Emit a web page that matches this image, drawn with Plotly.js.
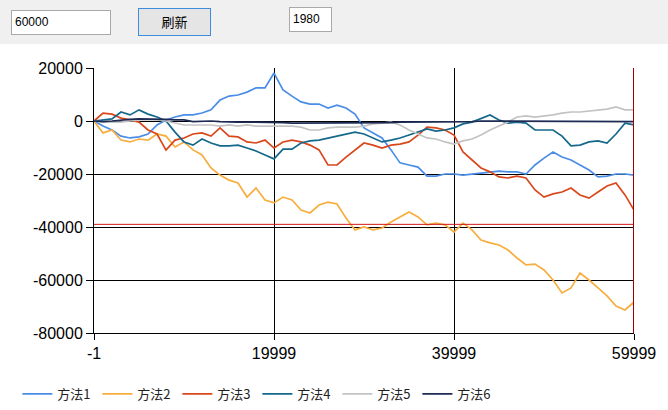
<!DOCTYPE html>
<html>
<head>
<meta charset="utf-8">
<script src="https://cdn.plot.ly/plotly-3.0.1.min.js"></script>
<style>
  html, body { margin: 0; padding: 0; width: 668px; height: 410px; overflow: hidden; background: #ffffff; }
  #panel { position: absolute; left: 0; top: 0; width: 668px; height: 44px; background: #f0f0f0; }
  .tb { position: absolute; background: #ffffff; border: 1px solid #a9a9a9; box-sizing: border-box;
        font-family: "Liberation Sans", Arial, sans-serif; font-size: 12px; color: #000; line-height: 22px; padding-left: 3px; }
  #btn { position: absolute; left: 138px; top: 8px; width: 73px; height: 28px; box-sizing: border-box;
         background: #e5e5e5; border: 1px solid #3c8ce0; font-family: "Noto Sans CJK SC", sans-serif;
         font-size: 13px; text-align: center; line-height: 25px; color: #000; }
  #chart { position: absolute; left: 0; top: 44px; width: 668px; height: 366px; }
</style>
</head>
<body>
<div id="panel">
  <div class="tb" style="left:11px;top:10px;width:100px;height:25px;">60000</div>
  <div id="btn">刷新</div>
  <div class="tb" style="left:289px;top:7px;width:43px;height:25px;">1980</div>
</div>
<div id="chart"></div>
<script>
// shared sample positions (step index)
var steps = [-1,1000,2000,3000,4000,5000,6000,7000,8000,9000,
  10000,11000,12000,13000,14000,15000,16000,17000,18000,19000,
  20000,21000,22000,23000,24000,25000,26000,27000,28000,29000,
  30000,31000,32000,33000,34000,35000,36000,37000,38000,39000,
  40000,41000,42000,43000,44000,45000,46000,47000,48000,49000,
  50000,51000,52000,53000,54000,55000,56000,57000,58000,59000,59999];

var method1 = [0,-1900,-3400,-5700,-6400,-6000,-4900,-1500,400,1500,
  2300,2300,3000,4200,7900,9400,9800,10900,12500,12500,
  18100,11700,9400,7200,6400,6400,4900,6000,4900,2600,
  -2600,-4500,-6400,-10900,-15800,-16600,-17400,-20800,-20800,-20000,
  -20000,-20400,-20000,-19600,-19200,-18900,-19200,-19200,-20000,-16600,
  -14000,-11700,-13600,-14700,-16600,-18500,-21100,-20800,-20000,-20000,-20400];

var method2 = [0,-4500,-3400,-7200,-7900,-6800,-7200,-4900,-5700,-9800,
  -7900,-10900,-12800,-17700,-20400,-22300,-23400,-28700,-25300,-29800,
  -30900,-28700,-29800,-33600,-34700,-31700,-30600,-31300,-36600,-41100,
  -40000,-41100,-40400,-38100,-36200,-34300,-36200,-39200,-38500,-39200,
  -41900,-38500,-41100,-44900,-46000,-46800,-48700,-51700,-54300,-54000,
  -56200,-60000,-64900,-63000,-57400,-60000,-63000,-66000,-69800,-71300,-68300];

var method3 = [0,3000,2600,1100,400,-400,-3400,-4900,-11000,-7200,
  -6400,-4900,-4500,-5700,-2600,-5700,-6000,-7900,-8300,-7200,
  -10200,-7900,-7200,-7900,-9100,-10900,-16600,-16600,-13600,-10900,
  -8300,-9100,-10200,-9100,-8700,-7900,-5300,-2300,-2600,-3400,
  -5300,-11700,-14700,-17700,-19200,-21100,-21500,-20800,-21500,-26000,
  -28700,-27500,-26800,-25300,-27900,-29100,-26800,-24500,-23400,-27900,-33600];

var method4 = [0,400,800,3400,2300,4200,2600,1500,0,-4200,
  -7900,-9100,-6800,-8300,-9400,-9400,-9100,-10200,-11300,-12800,
  -14300,-10600,-10600,-8300,-7500,-7200,-6400,-5700,-4900,-4200,
  -4900,-6400,-7900,-7200,-6400,-5300,-4200,-3000,-3800,-3400,
  -2600,-1100,-400,800,2300,400,-800,-400,-800,-3400,
  -3400,-3400,-5700,-9400,-9100,-7900,-7500,-8300,-4900,-800,-1500];

var method5 = [0,-400,-400,-400,0,400,400,400,0,-800,
  -1500,-1500,-1500,-1500,-1900,-1500,-1900,-1500,-1900,-1900,
  -1900,-1900,-1900,-2300,-3400,-3400,-2600,-2300,-2300,-2300,
  -1900,-1100,-800,-400,-1500,-3400,-4900,-6400,-6800,-7900,
  -8700,-7500,-6800,-5300,-3400,-1900,-400,1500,1900,1500,
  1900,2300,3000,3400,3400,3800,4200,4500,5300,4200,4200];

var method6 = [0,-200,0,400,600,800,800,800,600,400,
  400,-200,0,0,-200,-400,-400,-400,-400,-400,
  -600,-600,-800,-800,-800,-800,-800,-800,-800,-800,
  -800,-600,-600,-600,-400,-400,-400,-200,-200,-200,
  -200,-200,-200,0,0,0,0,0,0,0,
  0,0,0,0,0,0,0,0,0,0,-200];

var seriesNames = ["方法1","方法2","方法3","方法4","方法5","方法6"];
var seriesColors = ["#4a8de6","#f7ae3f","#d9471b","#14688a","#c3c3c3","#1d2b55"];

var xTickVals = [-1,19999,39999,59999];
var xTickText = ["-1","19999","39999","59999"];
var yTickVals = [20000,0,-20000,-40000,-60000,-80000];
var yTickText = ["20000","0","-20000","-40000","-60000","-80000"];

var refLineY = -39000;   // red horizontal marker
var cursorX = 59999;     // dark red vertical marker

var allSeries = [method1,method2,method3,method4,method5,method6];
var traces = allSeries.map(function(vals, i){
  return {x: steps, y: vals, type: "scatter", mode: "lines", name: seriesNames[i],
          line: {color: seriesColors[i], width: 1.7}};
});

var layout = {
  width: 668, height: 366,
  margin: {l: 94, r: 34, t: 24, b: 77},
  paper_bgcolor: "#ffffff", plot_bgcolor: "#ffffff",
  showlegend: true,
  legend: {orientation: "h", xref: "container", yref: "container", x: 0.026, y: 0.044,
           xanchor: "left", yanchor: "middle", entrywidth: 35, entrywidthmode: "pixels",
           font: {family: "Noto Sans CJK SC, sans-serif", size: 13, color: "#222"},
           bgcolor: "rgba(0,0,0,0)", tracegroupgap: 0},
  xaxis: {range: [-1, 59999], tickmode: "array", tickvals: xTickVals, ticktext: xTickText,
          showgrid: true, gridcolor: "#000000", gridwidth: 1, zeroline: false,
          showline: true, linecolor: "#000000", linewidth: 1, mirror: false,
          ticks: "outside", ticklen: 6, tickcolor: "#000000",
          tickfont: {family: "Liberation Sans, Arial, sans-serif", size: 16, color: "#000"}},
  yaxis: {range: [-80000, 20000], tickmode: "array", tickvals: yTickVals, ticktext: yTickText,
          showgrid: true, gridcolor: "#000000", gridwidth: 1, zeroline: false,
          showline: true, linecolor: "#000000", linewidth: 1,
          ticks: "outside", ticklen: 7, tickcolor: "#000000",
          tickfont: {family: "Liberation Sans, Arial, sans-serif", size: 16, color: "#000"}},
  shapes: [
    {type: "line", xref: "paper", x0: 0, x1: 1, yref: "y", y0: refLineY, y1: refLineY,
     line: {color: "#d01818", width: 1}},
    {type: "line", xref: "x", x0: cursorX, x1: cursorX, yref: "paper", y0: 0, y1: 1,
     line: {color: "#a00000", width: 2}}
  ]
};

Plotly.newPlot("chart", traces, layout, {staticPlot: true, displayModeBar: false});
</script>
</body>
</html>
